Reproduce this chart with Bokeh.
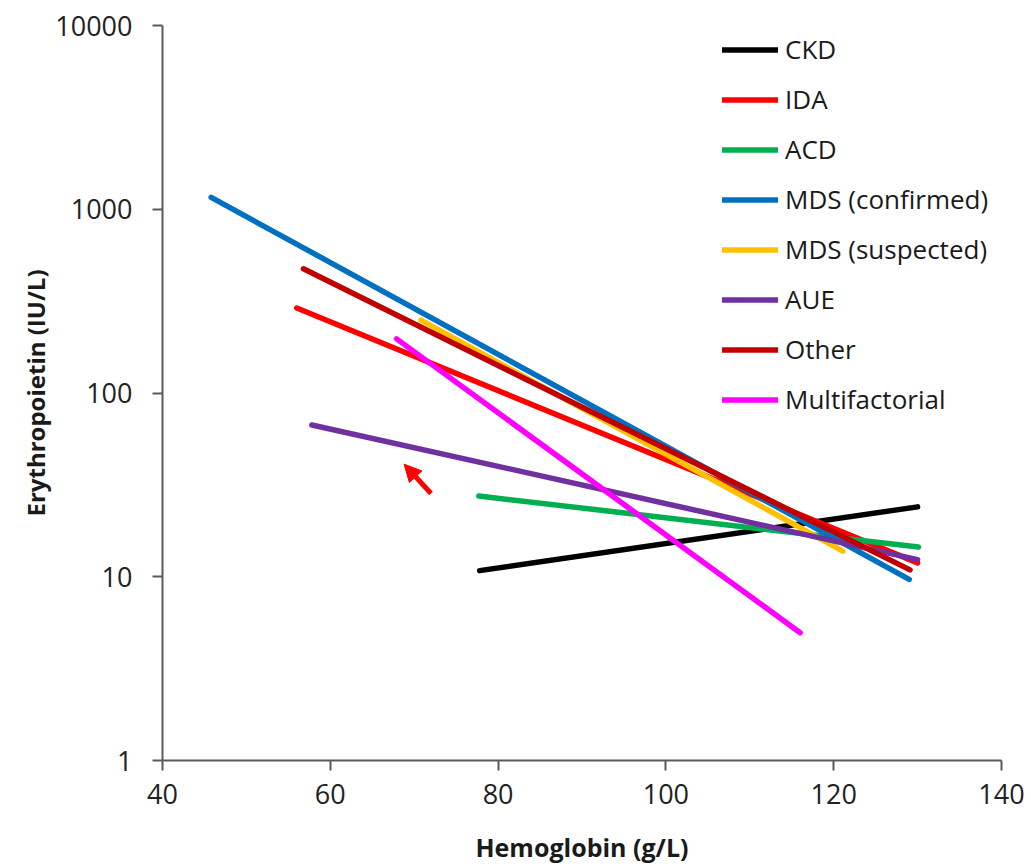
from bokeh.plotting import figure
from bokeh.models import (ColumnDataSource, Legend, LegendItem, FixedTicker, Range1d,
                          Arrow, NormalHead)
from bokeh.embed import file_html
from bokeh.resources import INLINE

# ---- data ----
groups = ["CKD", "IDA", "ACD", "MDS (confirmed)", "MDS (suspected)", "AUE", "Other", "Multifactorial"]
colors = ["#000000", "#FF0000", "#00B050", "#0070C0", "#FFC000", "#7030A0", "#C00000", "#FF00FF"]
hb_start = [77.8, 56.0, 77.7, 45.8, 70.8, 57.8, 56.8, 67.9]
hb_end = [130.0, 130.0, 130.1, 129.0, 121.1, 130.0, 129.1, 116.0]
epo_start = [10.8, 290.0, 27.5, 1161.0, 249.0, 67.0, 474.0, 197.0]
epo_end = [24.0, 11.9, 14.5, 9.68, 13.8, 12.4, 10.9, 4.96]

x_ticks = [40, 60, 80, 100, 120, 140]
y_ticks = [1, 10, 100, 1000, 10000]
y_tick_labels = ["1", "10", "100", "1000", "10000"]

# red pointer arrow (tail -> tip), in data units
arrow_from = (72.0, 28.4)
arrow_to = (68.8, 41.0)

FONT = "Open Sans"

p = figure(width=1028, height=866, output_backend="svg", toolbar_location=None,
           y_axis_type="log", x_range=Range1d(40, 140), y_range=Range1d(1, 10000),
           min_border_left=162, min_border_right=27, min_border_top=25, min_border_bottom=105)
p.outline_line_color = None
p.grid.grid_line_color = None
p.background_fill_color = "white"
p.border_fill_color = "white"

items = []
for g, c, x0, x1, y0, y1 in zip(groups, colors, hb_start, hb_end, epo_start, epo_end):
    src = ColumnDataSource(dict(x=[x0, x1], y=[y0, y1]))
    r = p.line("x", "y", source=src, line_color=c, line_width=5.5, line_cap="round")
    items.append(LegendItem(label=g, renderers=[r]))

p.add_layout(Arrow(end=NormalHead(fill_color="#FF0000", line_color="#FF0000", size=17),
                   x_start=arrow_from[0], y_start=arrow_from[1],
                   x_end=arrow_to[0], y_end=arrow_to[1],
                   line_color="#FF0000", line_width=5))

legend = Legend(items=items, location=(560, 343), border_line_color=None,
                background_fill_alpha=0, padding=0, margin=0,
                glyph_width=56, glyph_height=25, label_height=25, spacing=14,
                label_standoff=7, label_text_font=FONT, label_text_font_size="26px",
                label_text_color="#1a1a1a")
p.add_layout(legend)

for ax in (p.xaxis[0], p.yaxis[0]):
    ax.axis_line_color = "#5a5a5a"
    ax.axis_line_width = 2
    ax.major_tick_line_color = "#5a5a5a"
    ax.major_tick_line_width = 2
    ax.major_tick_in = 0
    ax.major_tick_out = 10
    ax.minor_tick_line_color = None
    ax.major_label_text_font = FONT
    ax.major_label_text_font_size = "27px"
    ax.major_label_text_color = "#222222"
    ax.axis_label_text_font = FONT
    ax.axis_label_text_font_style = "bold"
    ax.axis_label_text_color = "#1a1a1a"

p.xaxis[0].ticker = FixedTicker(ticks=x_ticks)
p.xaxis[0].axis_label = "Hemoglobin (g/L)"
p.xaxis[0].axis_label_text_font_size = "25px"
p.xaxis[0].major_label_standoff = 13
p.xaxis[0].axis_label_standoff = 23

p.yaxis[0].ticker = FixedTicker(ticks=y_ticks)
p.yaxis[0].major_label_overrides = {t: s for t, s in zip(y_ticks, y_tick_labels)}
p.yaxis[0].axis_label = "Erythropoietin (IU/L)"
p.yaxis[0].axis_label_text_font_size = "24px"
p.yaxis[0].major_label_standoff = 20
p.yaxis[0].axis_label_standoff = 0

open("out.html", "w").write(file_html(p, INLINE))
